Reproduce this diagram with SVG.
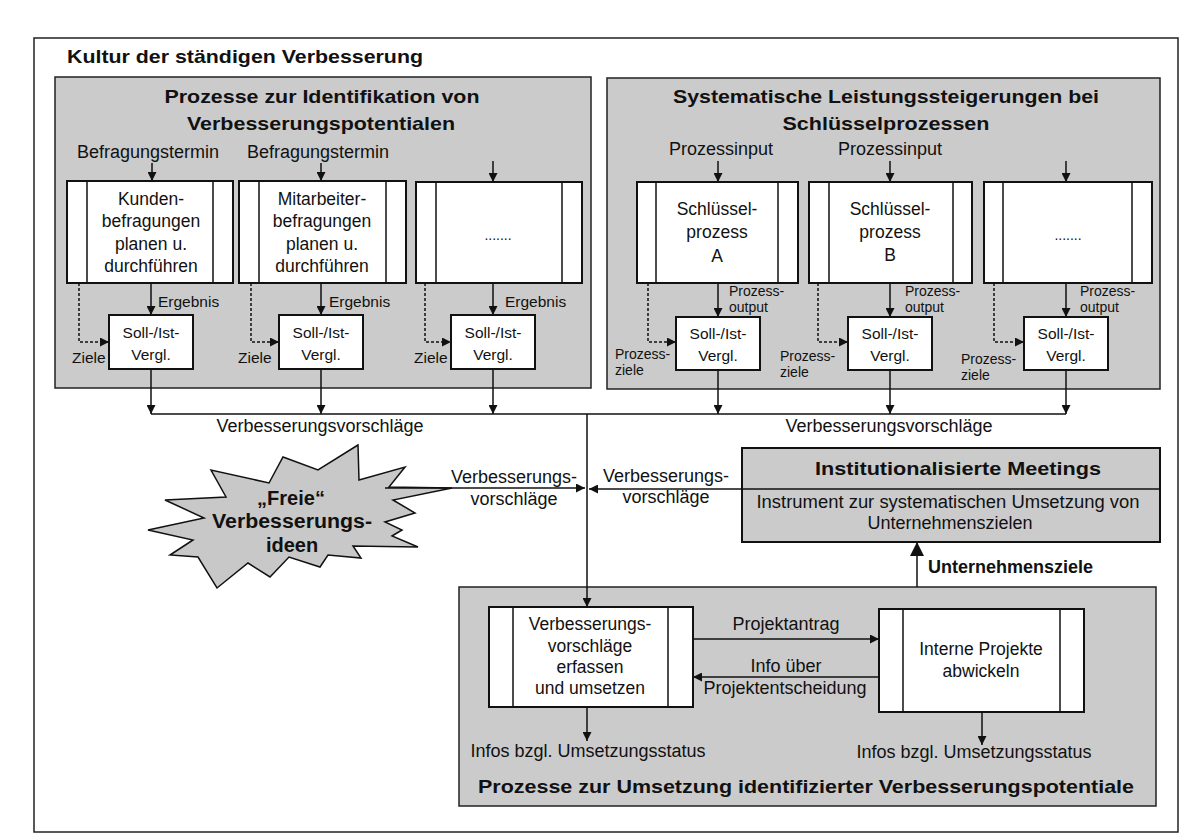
<svg xmlns="http://www.w3.org/2000/svg" width="1200" height="840" viewBox="0 0 1200 840">
<style>
.t{font-family:"Liberation Sans",Arial,sans-serif;fill:#111}
.b{font-weight:bold}
.m{text-anchor:middle}
.s18{font-size:18px}
.bx{font-size:17.5px}
.s15{font-size:15.5px}
.s14{font-size:14px}
.s19{font-size:19px}
.panel{fill:#cbcbcb;stroke:#222;stroke-width:1.5}
.box{fill:#fff;stroke:#111;stroke-width:2}
.ln{stroke:#111;stroke-width:1.5;fill:none}
.dash{stroke:#111;stroke-width:1.5;fill:none;stroke-dasharray:3 2}
</style>
<defs>
<marker id="ah" markerUnits="userSpaceOnUse" markerWidth="9" markerHeight="9" refX="9" refY="4.5" orient="auto">
<path d="M0,0 L9,4.5 L0,9 z" fill="#111"/>
</marker>
<marker id="ahb" markerUnits="userSpaceOnUse" markerWidth="14" markerHeight="14" refX="14" refY="7" orient="auto">
<path d="M0,0 L14,7 L0,14 z" fill="#111"/>
</marker>
</defs>
<rect width="1200" height="840" fill="#fff"/>
<rect x="34" y="38" width="1144" height="794" fill="none" stroke="#222" stroke-width="1.5"/>
<text class="t b s19" x="67" y="63" textLength="356" lengthAdjust="spacingAndGlyphs">Kultur der ständigen Verbesserung</text>

<g id="panel-ident">
<rect class="panel" x="55" y="77" width="536" height="311"/>
<text class="t b s19 m" x="322" y="103" textLength="315" lengthAdjust="spacingAndGlyphs">Prozesse zur Identifikation von</text>
<text class="t b s19 m" x="321" y="130" textLength="268" lengthAdjust="spacingAndGlyphs">Verbesserungspotentialen</text>
<text class="t s18 m" x="148" y="158">Befragungstermin</text>
<text class="t s18 m" x="318" y="158">Befragungstermin</text>
</g>

<g id="panel-schluessel">
<rect class="panel" x="607" y="78" width="553" height="311"/>
<text class="t b s19 m" x="886" y="103" textLength="426" lengthAdjust="spacingAndGlyphs">Systematische Leistungssteigerungen bei</text>
<text class="t b s19 m" x="886" y="130" textLength="207" lengthAdjust="spacingAndGlyphs">Schlüsselprozessen</text>
<text class="t s18 m" x="721" y="155">Prozessinput</text>
<text class="t s18 m" x="890" y="155">Prozessinput</text>
</g>

<g id="panel-umsetzung">
<rect class="panel" x="459" y="587" width="697" height="219"/>
<text class="t b s19 m" x="806" y="793" textLength="656" lengthAdjust="spacingAndGlyphs">Prozesse zur Umsetzung identifizierter Verbesserungspotentiale</text>
</g>

<g id="box-kunden">
<rect class="box" x="67" y="181" width="166" height="102"/>
<line class="ln" x1="87" y1="181" x2="87" y2="283"/><line class="ln" x1="213" y1="181" x2="213" y2="283"/>
<text class="t bx m" x="151" y="205">Kunden-</text>
<text class="t bx m" x="151" y="227">befragungen</text>
<text class="t bx m" x="151" y="250">planen u.</text>
<text class="t bx m" x="151" y="272">durchführen</text>
</g>
<g id="box-mitarbeiter">
<rect class="box" x="239" y="181" width="167" height="102"/>
<line class="ln" x1="259" y1="181" x2="259" y2="283"/><line class="ln" x1="386" y1="181" x2="386" y2="283"/>
<text class="t bx m" x="322" y="205">Mitarbeiter-</text>
<text class="t bx m" x="322" y="227">befragungen</text>
<text class="t bx m" x="322" y="250">planen u.</text>
<text class="t bx m" x="322" y="272">durchführen</text>
</g>
<g id="box-left3">
<rect class="box" x="416" y="182" width="166" height="101"/>
<line class="ln" x1="436" y1="182" x2="436" y2="283"/><line class="ln" x1="562" y1="182" x2="562" y2="283"/>
<text class="t s14 m" x="498" y="240">.......</text>
</g>
<g id="box-a">
<rect class="box" x="637" y="182" width="161" height="101"/>
<line class="ln" x1="656" y1="182" x2="656" y2="283"/><line class="ln" x1="778" y1="182" x2="778" y2="283"/>
<text class="t bx m" x="717" y="215">Schlüssel-</text>
<text class="t bx m" x="717" y="238">prozess</text>
<text class="t bx m" x="717" y="262">A</text>
</g>
<g id="box-b">
<rect class="box" x="809" y="182" width="163" height="101"/>
<line class="ln" x1="829" y1="182" x2="829" y2="283"/><line class="ln" x1="953" y1="182" x2="953" y2="283"/>
<text class="t bx m" x="890" y="215">Schlüssel-</text>
<text class="t bx m" x="890" y="238">prozess</text>
<text class="t bx m" x="890" y="261">B</text>
</g>
<g id="box-right3">
<rect class="box" x="984" y="182" width="168" height="101"/>
<line class="ln" x1="1003" y1="182" x2="1003" y2="283"/><line class="ln" x1="1132" y1="182" x2="1132" y2="283"/>
<text class="t s14 m" x="1068" y="240">.......</text>
</g>

<g id="soll-l1"><rect class="box" x="109" y="315" width="84" height="54"/>
<text class="t s15 m" x="151" y="338">Soll-/Ist-</text><text class="t s15 m" x="151" y="360">Vergl.</text></g>
<g id="soll-l2"><rect class="box" x="279" y="315" width="84" height="54"/>
<text class="t s15 m" x="321" y="338">Soll-/Ist-</text><text class="t s15 m" x="321" y="360">Vergl.</text></g>
<g id="soll-l3"><rect class="box" x="451" y="315" width="84" height="54"/>
<text class="t s15 m" x="493" y="338">Soll-/Ist-</text><text class="t s15 m" x="493" y="360">Vergl.</text></g>
<g id="soll-r1"><rect class="box" x="676" y="317" width="84" height="53"/>
<text class="t s15 m" x="718" y="339">Soll-/Ist-</text><text class="t s15 m" x="718" y="361">Vergl.</text></g>
<g id="soll-r2"><rect class="box" x="848" y="317" width="84" height="53"/>
<text class="t s15 m" x="890" y="339">Soll-/Ist-</text><text class="t s15 m" x="890" y="361">Vergl.</text></g>
<g id="soll-r3"><rect class="box" x="1024" y="317" width="84" height="53"/>
<text class="t s15 m" x="1066" y="339">Soll-/Ist-</text><text class="t s15 m" x="1066" y="361">Vergl.</text></g>

<g id="star">
<polygon points="358,445 318,470 283,457 269,483 211,470 226,497 165,500 204,518 148,530 193,540 170,555 198,557 217,588 248,563 270,577 289,557 320,567 328,555 361,558 353,546 418,547 392,536 402,530 385,522 415,513 393,500 452,488 389,487 405,467 359,480" fill="#c8c8c8" stroke="#111" stroke-width="1.5"/>
<text class="t b m" font-size="20" x="291" y="505">„Freie“</text>
<text class="t b m" font-size="20" x="292" y="528" textLength="160" lengthAdjust="spacingAndGlyphs">Verbesserungs-</text>
<text class="t b m" font-size="20" x="292" y="552">ideen</text>
</g>

<g id="meetings">
<rect x="742" y="448" width="418" height="94" fill="#cbcbcb" stroke="#111" stroke-width="2"/>
<line class="ln" x1="742" y1="489" x2="1160" y2="489" stroke-width="2"/>
<text class="t b s19 m" x="958" y="475" textLength="286" lengthAdjust="spacingAndGlyphs">Institutionalisierte Meetings</text>
<text class="t s18 m" x="948" y="508" textLength="383" lengthAdjust="spacingAndGlyphs">Instrument zur systematischen Umsetzung von</text>
<text class="t s18 m" x="950" y="529">Unternehmenszielen</text>
</g>

<g id="box-erfassen">
<rect class="box" x="489" y="607" width="204" height="100"/>
<line class="ln" x1="513" y1="607" x2="513" y2="707"/><line class="ln" x1="668" y1="607" x2="668" y2="707"/>
<text class="t bx m" x="590" y="630">Verbesserungs-</text>
<text class="t bx m" x="590" y="652">vorschläge</text>
<text class="t bx m" x="590" y="673">erfassen</text>
<text class="t bx m" x="590" y="694">und umsetzen</text>
</g>
<g id="box-interne">
<rect class="box" x="879" y="609" width="205" height="103"/>
<line class="ln" x1="903" y1="609" x2="903" y2="712"/><line class="ln" x1="1060" y1="609" x2="1060" y2="712"/>
<text class="t bx m" x="981" y="655">Interne Projekte</text>
<text class="t bx m" x="981" y="677">abwickeln</text>
</g>

<g id="connectors">
<line class="ln" x1="152" y1="163" x2="152" y2="181" marker-end="url(#ah)"/>
<line class="ln" x1="321" y1="163" x2="321" y2="181" marker-end="url(#ah)"/>
<line class="ln" x1="493" y1="161" x2="493" y2="182" marker-end="url(#ah)"/>
<line class="ln" x1="718" y1="161" x2="718" y2="182" marker-end="url(#ah)"/>
<line class="ln" x1="890" y1="161" x2="890" y2="182" marker-end="url(#ah)"/>
<line class="ln" x1="1066" y1="161" x2="1066" y2="182" marker-end="url(#ah)"/>

<line class="ln" x1="151" y1="283" x2="151" y2="315" marker-end="url(#ah)"/>
<line class="ln" x1="321" y1="283" x2="321" y2="315" marker-end="url(#ah)"/>
<line class="ln" x1="493" y1="283" x2="493" y2="315" marker-end="url(#ah)"/>
<line class="ln" x1="718" y1="283" x2="718" y2="317" marker-end="url(#ah)"/>
<line class="ln" x1="890" y1="283" x2="890" y2="317" marker-end="url(#ah)"/>
<line class="ln" x1="1066" y1="283" x2="1066" y2="317" marker-end="url(#ah)"/>

<polyline class="dash" points="79,283 79,342 109,342" marker-end="url(#ah)"/>
<polyline class="dash" points="251,283 251,342 279,342" marker-end="url(#ah)"/>
<polyline class="dash" points="425,283 425,342 451,342" marker-end="url(#ah)"/>
<polyline class="dash" points="648,283 648,342 676,342" marker-end="url(#ah)"/>
<polyline class="dash" points="818,283 818,342 848,342" marker-end="url(#ah)"/>
<polyline class="dash" points="994,283 994,342 1024,342" marker-end="url(#ah)"/>

<line class="ln" x1="151" y1="369" x2="151" y2="414" marker-end="url(#ah)"/>
<line class="ln" x1="321" y1="369" x2="321" y2="414" marker-end="url(#ah)"/>
<line class="ln" x1="493" y1="369" x2="493" y2="414" marker-end="url(#ah)"/>
<line class="ln" x1="718" y1="370" x2="718" y2="414" marker-end="url(#ah)"/>
<line class="ln" x1="890" y1="370" x2="890" y2="414" marker-end="url(#ah)"/>
<line class="ln" x1="1066" y1="370" x2="1066" y2="414" marker-end="url(#ah)"/>
<line class="ln" x1="151" y1="414" x2="1066" y2="414"/>
<line class="ln" x1="587" y1="414" x2="587" y2="607" marker-end="url(#ah)"/>

<line class="ln" x1="385" y1="488" x2="585" y2="488" marker-end="url(#ah)"/>
<line class="ln" x1="742" y1="489" x2="589" y2="489" marker-end="url(#ah)"/>

<line class="ln" x1="917" y1="587" x2="917" y2="542" marker-end="url(#ahb)"/>
<line class="ln" x1="693" y1="639" x2="879" y2="639" marker-end="url(#ah)"/>
<line class="ln" x1="879" y1="677" x2="693" y2="677" marker-end="url(#ah)"/>
<line class="ln" x1="587" y1="707" x2="587" y2="741" marker-end="url(#ah)"/>
<line class="ln" x1="982" y1="712" x2="982" y2="745" marker-end="url(#ah)"/>
</g>

<g id="labels">
<text class="t s15" x="158" y="307">Ergebnis</text>
<text class="t s15" x="329" y="307">Ergebnis</text>
<text class="t s15" x="505" y="307">Ergebnis</text>
<text class="t s15" x="72" y="363">Ziele</text>
<text class="t s15" x="238" y="363">Ziele</text>
<text class="t s15" x="414" y="363">Ziele</text>
<text class="t s14" x="729" y="296">Prozess-</text><text class="t s14" x="729" y="312">output</text>
<text class="t s14" x="905" y="296">Prozess-</text><text class="t s14" x="905" y="312">output</text>
<text class="t s14" x="1080" y="296">Prozess-</text><text class="t s14" x="1080" y="312">output</text>
<text class="t s14" x="615" y="359">Prozess-</text><text class="t s14" x="615" y="375">ziele</text>
<text class="t s14" x="780" y="361">Prozess-</text><text class="t s14" x="780" y="377">ziele</text>
<text class="t s14" x="961" y="364">Prozess-</text><text class="t s14" x="961" y="380">ziele</text>
<text class="t s18 m" x="320" y="432">Verbesserungsvorschläge</text>
<text class="t s18 m" x="889" y="432">Verbesserungsvorschläge</text>
<text class="t s18 m" x="514" y="483">Verbesserungs-</text>
<text class="t s18 m" x="514" y="505">vorschläge</text>
<text class="t s18 m" x="666" y="482">Verbesserungs-</text>
<text class="t s18 m" x="666" y="503">vorschläge</text>
<text class="t b s18" x="928" y="573">Unternehmensziele</text>
<text class="t s18 m" x="786" y="630">Projektantrag</text>
<text class="t s18 m" x="786" y="672">Info über</text>
<text class="t s18 m" x="785" y="694">Projektentscheidung</text>
<text class="t s18 m" x="588" y="757">Infos bzgl. Umsetzungsstatus</text>
<text class="t s18 m" x="974" y="758">Infos bzgl. Umsetzungsstatus</text>
</g>
</svg>
